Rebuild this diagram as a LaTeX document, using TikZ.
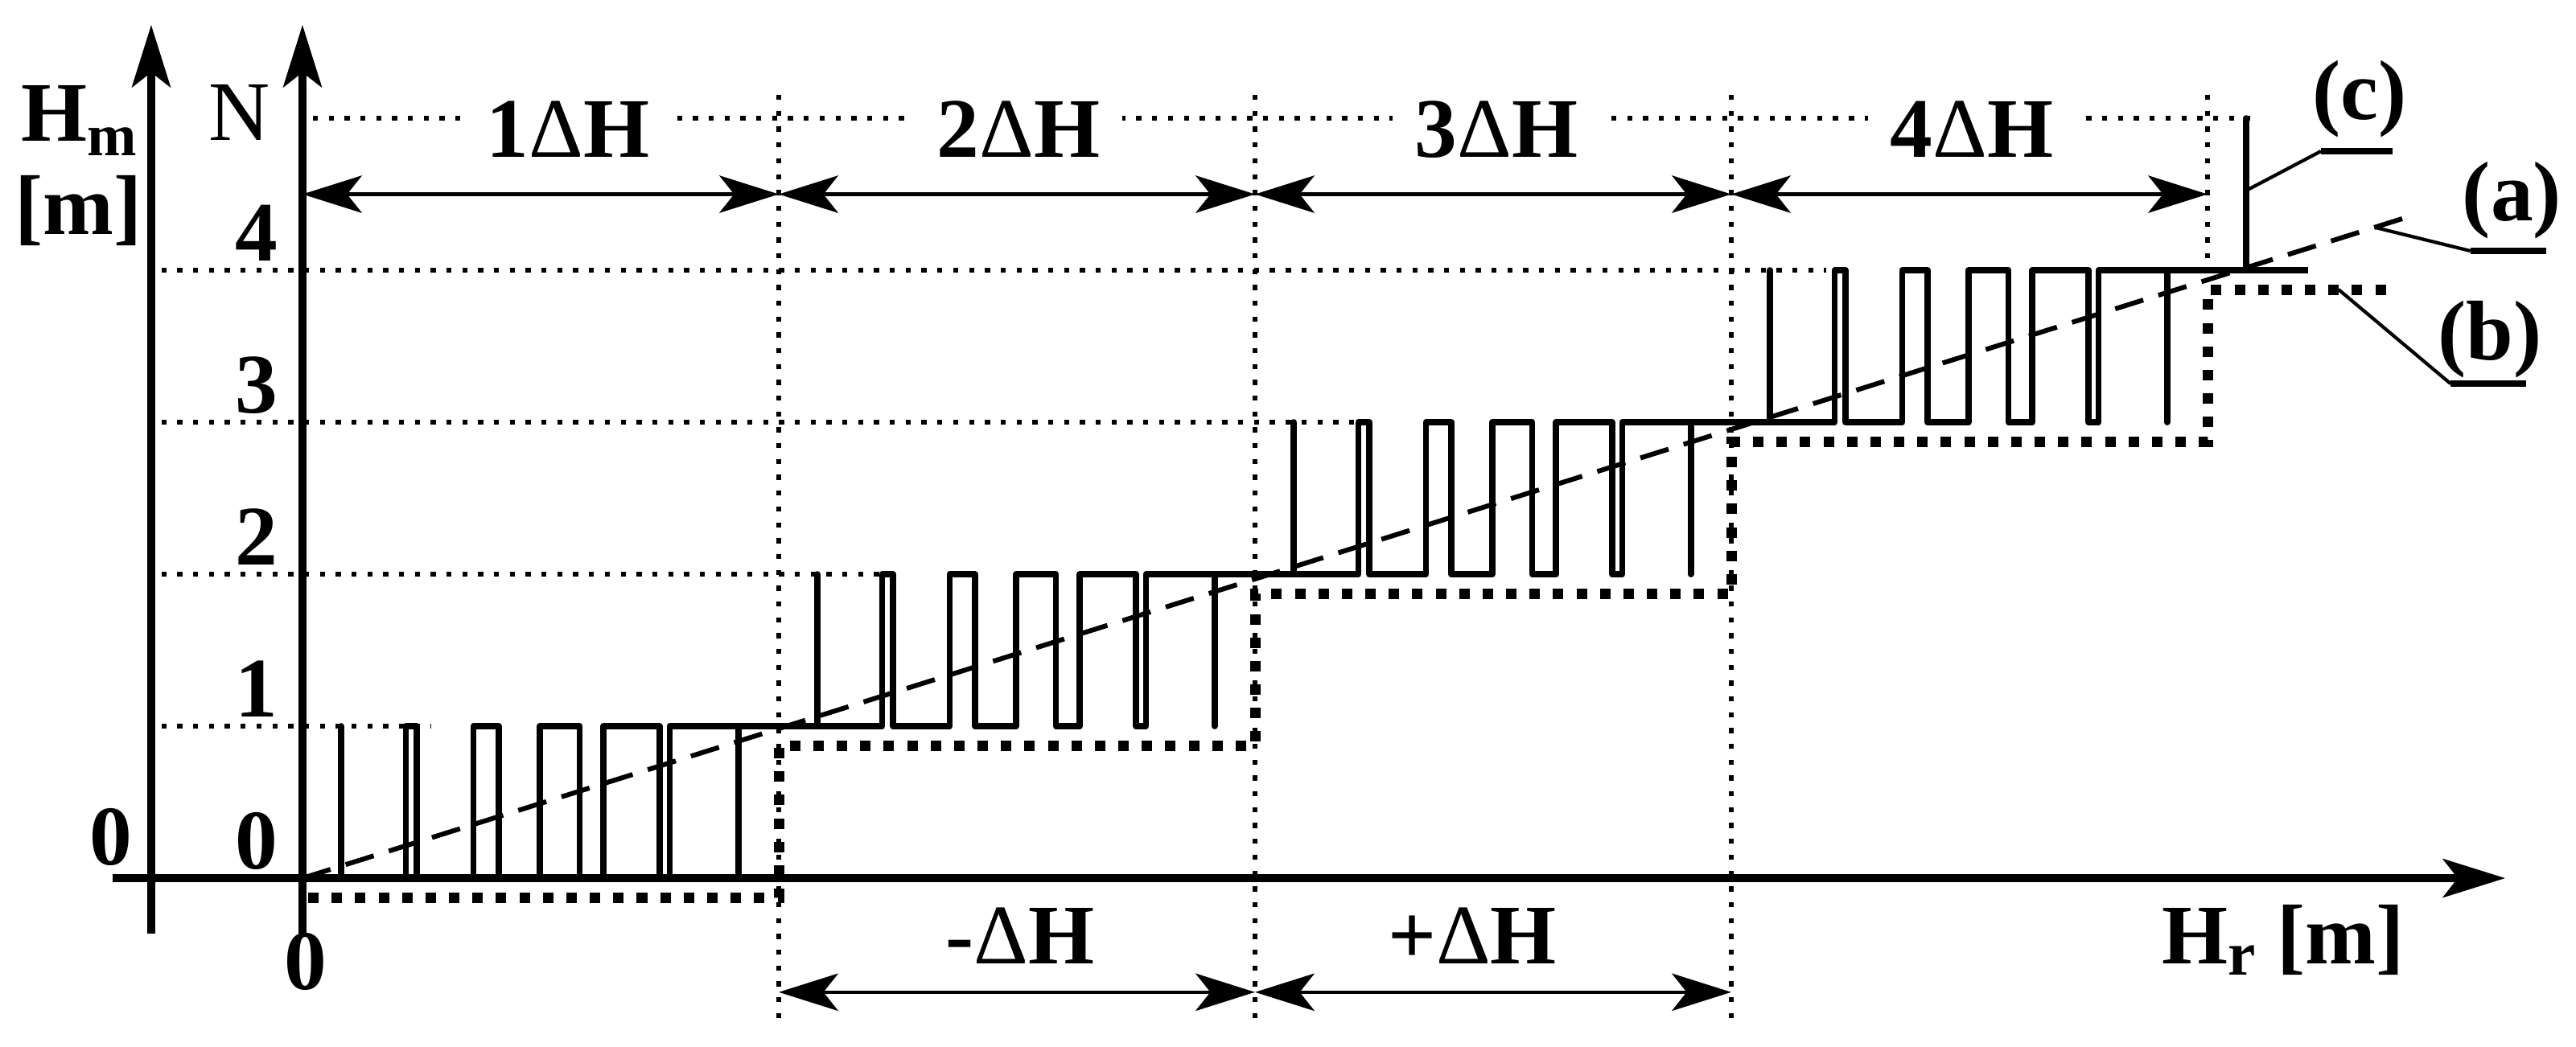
\documentclass[tikz,border=0pt]{standalone}
\usepackage{fontspec}
\setmainfont{Liberation Serif}
\usetikzlibrary{arrows.meta}
\usetikzlibrary{positioning}
\tikzset{
  % axes with open stealth heads
  axis/.style = {
    line width = 1.35pt,
    -{Stealth[length=11pt, width=6.8pt, inset=2.6pt]}
  },
  % interval marks between the dotted verticals
  span/.style = {
    line width = 0.65pt,
    {Stealth[length=10.5pt, width=6.6pt, inset=2.6pt]}-{Stealth[length=10.5pt, width=6.6pt, inset=2.6pt]}
  },
  % curve (c)
  wave/.style = {
    line width = 1.1pt,
    line join = round
  },
  % curve (a)
  mean/.style = {
    line width = 0.85pt,
    dash pattern = on 5.2pt off 2.8pt
  },
  % curve (b)
  stair/.style = {
    line width = 1.85pt,
    dash pattern = on 1.85pt off 2.3pt
  },
  grid dot/.style = {
    line width = 0.9pt,
    dash pattern = on 0.9pt off 1.9pt
  },
  leader/.style = {
    line width = 0.6pt
  },
  underline/.style = {
    line width = 1.1pt
  }
}
\tikzset {
  lbl/.style = {
    font = \fontsize{15}{18}\selectfont\bfseries,
    inner sep = 0pt
  },
  dh label/.style = {
    lbl,
    fill = white,
    inner xsep = 4pt,
    inner ysep = 1pt,
    anchor = base
  }
}

\begin{document}
\begin{tikzpicture}[x=2.96cm, y=0.945cm]
    \useasboundingbox (-0.6351,-1.1058) rectangle (4.7736,5.7778);

    % dotted grid
    \foreach \lev/\stop in {1/0.27, 2/1.22, 3/2.21, 4/3.2}
      \draw[grid dot] (-0.296,\lev) -- (\stop,\lev);
    \draw[grid dot] (0.022,5) -- (4.098,5);
    \foreach \k in {1,2,3}
      \draw[grid dot] (\k,5.153) -- (\k,-0.942);
    \draw[grid dot] (4,5.153) -- (4,4);

    % axes
    \draw[axis] (-0.399,0) -- (4.625,0);
    \draw[axis] (-0.3176,-0.365) -- (-0.3176,5.614);
    \draw[axis] (0,-0.365) -- (0,5.614);

    % (b)
    \draw[stair] (0.012,-0.13) -- (1,-0.13) -- (1,0.87)
      -- (2,0.87) -- (2,1.87)
      -- (3,1.87) -- (3,2.87)
      -- (4,2.87) -- (4,3.87) -- (4.389,3.87);

    % (a)
    \draw[mean] (0,0) -- (4.43,4.36);

    % (c)
    \foreach \k in {0,...,3}
      \draw[wave, shift={(\k,\k)}] (0,0)
        -- (0.081,0) -- (0.081,1) -- (0.081,0)
        -- (0.217,0) -- (0.217,1) -- (0.240,1) -- (0.240,0)
        -- (0.359,0) -- (0.359,1) -- (0.412,1) -- (0.412,0)
        -- (0.498,0) -- (0.498,1) -- (0.582,1) -- (0.582,0)
        -- (0.632,0) -- (0.632,1) -- (0.750,1) -- (0.750,0)
        -- (0.771,0) -- (0.771,1) -- (0.915,1) -- (0.915,0)
        -- (0.915,1) -- (1,1);
    \draw[wave] (4,4) -- (4.081,4) -- (4.081,5) -- (4.081,4) -- (4.211,4);

    % interval marks
    \foreach \k in {0,...,4}
      \coordinate (t\k) at (\k,4.5);
    \coordinate (b1) at (1,-0.75);
    \coordinate (b2) at (2,-0.75);
    \coordinate (b3) at (3,-0.75);
    \draw[span] (t0) -- (t1);
    \draw[span] (t1) -- (t2);
    \draw[span] (t2) -- (t3);
    \draw[span] (t3) -- (t4);
    \draw[span] (b1) -- (b2);
    \draw[span] (b2) -- (b3);

    \node[dh label] (d1) at (0.557,4.741) {1{\mdseries Δ}H};
    \node[dh label] (d2) at (1.503,4.741) {2{\mdseries Δ}H};
    \node[dh label] (d3) at (2.507,4.741) {3{\mdseries Δ}H};
    \node[dh label] (d4) at (3.505,4.741) {4{\mdseries Δ}H};
    \node[dh label] (dm) at (1.507,-0.561) {-{\mdseries Δ}H};
    \node[dh label] (dp) at (2.456,-0.561) {+{\mdseries Δ}H};

    % axis labels
    \foreach \lev in {0,...,4}
      \node[lbl, anchor=base] (n\lev) at (-0.096,\lev+0.06) {\lev};
    \node[lbl, anchor=base] (zm) at (-0.402,0.09) {0};
    \node[lbl, anchor=base] (zr) at (0.007,-0.735) {0};
    \node[lbl, anchor=base, font=\fontsize{15}{18}\selectfont] (nN) at (-0.133,4.857) {N};
    \node[lbl, anchor=base west] (hm) at (-0.593,4.847)
      {H\raisebox{-2.5pt}{\fontsize{10.5}{10.5}\selectfont m}};
    \node[lbl, anchor=base] (hmu) at (-0.471,4.233) {[m]};
    \node[lbl, anchor=base west] (hr) at (3.902,-0.561)
      {H\raisebox{-2pt}{\fontsize{11}{11}\selectfont r} [m]};

    % curve labels
    \node[lbl] (lc) at (4.319,5.127) {(c)};
    \node[lbl] (la) at (4.639,4.460) {(a)};
    \node[lbl] (lb) at (4.593,3.545) {(b)};

    \coordinate (c0) at (4.081,4.524);
    \coordinate (c1) at (4.238,4.783);
    \coordinate (c2) at (4.389,4.783);
    \coordinate (a0) at (4.351,4.282);
    \coordinate (a1) at (4.552,4.127);
    \coordinate (a2) at (4.711,4.127);
    \coordinate (e0) at (4.275,3.873);
    \coordinate (e1) at (4.510,3.254);
    \coordinate (e2) at (4.669,3.254);

    \draw[leader] (c0) -- (c1);
    \draw[underline] (c1) -- (c2);
    \draw[leader] (a0) -- (a1);
    \draw[underline] (a1) -- (a2);
    \draw[leader] (e0) -- (e1);
    \draw[underline] (e1) -- (e2);

  \end{tikzpicture}
\end{document}
